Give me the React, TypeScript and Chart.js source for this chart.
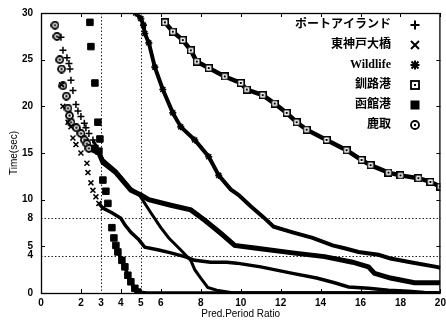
import React, { useEffect, useRef } from 'react';
import { Chart, registerables } from 'chart.js';

Chart.register(...registerables);

// ---- tick labels / reference lines ----
const xTickValues = [0, 2, 3, 4, 5, 6, 8, 10, 12, 14, 16, 18, 20];
const yTickValues = [0, 4, 5, 8, 10, 15, 20, 25, 30];
const refLinesX = [3, 5];
const refLinesY = [4, 8];
const xTitle = 'Pred.Period Ratio';
const yTitle = 'Time(sec)';

// ---- series names ----
const seriesNames = ['ポートアイランド', '東神戸大橋', 'Wildlife', '釧路港', '函館港', '鹿取'];

// ---- ポートアイランド (+) ----
const portX = [1.0, 1.1, 1.3, 1.4, 1.45, 1.5, 1.6, 1.75, 1.85, 2.0, 2.17, 2.25, 2.4, 2.6, 3.1, 3.75, 4.5, 4.9, 5.5, 6.0, 6.4, 7.0, 7.5, 7.7, 8.0, 8.35, 8.8, 9.5, 20];
const portY = [27.4, 26, 25.2, 24.6, 24, 22.8, 21.7, 20.2, 19.5, 18.9, 18.2, 17.7, 17.1, 16.4, 14.3, 13.1, 11.2, 10.6, 8.6, 7.0, 5.9, 4.6, 3.5, 2.5, 1.6, 0.6, 0.3, 0.05, 0];

// ---- 東神戸大橋 (x) ----
const kobeX = [1.03, 1.1, 1.35, 1.5, 1.6, 1.75, 2.0, 2.3, 2.35, 2.5, 2.6, 2.75, 2.9, 3.1, 3.55, 4.0, 4.2, 4.5, 4.9, 5.2, 5.9, 6.5, 7.2, 7.7, 8.5, 9.3, 9.8, 11.0, 12.6, 13.8, 14.7, 15.4, 16.4, 17.4, 18.4, 19.2, 20];
const kobeY = [22.3, 20, 18.3, 17.8, 16.6, 15.9, 15, 13.9, 12.9, 11.8, 11, 10.3, 9.6, 9.1, 8.6, 8.0, 7.3, 6.5, 5.7, 4.9, 4.6, 4.3, 3.9, 3.5, 3.3, 3.3, 3.2, 2.8, 2.1, 1.6, 1.1, 0.65, 0.5, 0.3, 0.2, 0.05, 0];

// ---- Wildlife (*) ----
const wildX = [4.74, 5.0, 5.13, 5.2, 5.4, 5.7, 6.1, 6.6, 7.0, 7.7, 8.4, 8.9, 9.5, 9.9, 10.5, 11.15, 11.65, 12.6, 13.6, 14.6, 15.2, 15.9, 16.9, 17.5, 18.5, 19.8, 20];
const wildY = [30, 29.4, 28.7, 27.8, 26.8, 24.2, 21.8, 19.3, 17.8, 16.4, 14.6, 12.6, 11.1, 10.5, 9.3, 8.1, 7.1, 6.5, 5.9, 5.1, 4.8, 4.4, 4.1, 3.7, 3.3, 2.8, 2.7];

// ---- 釧路港 (square with dot) ----
const kushiroX = [6.2, 6.6, 7.1, 7.5, 7.8, 8.4, 9.2, 10.0, 10.3, 11.1, 11.7, 12.3, 12.8, 13.3, 14.3, 15.3, 16.05, 16.5, 17.4, 18.0, 18.9, 19.5, 20];
const kushiroY = [29, 28, 27.1, 26, 24.8, 24.1, 23.2, 22.5, 21.8, 21.2, 20.3, 19.3, 18.3, 17.5, 16.4, 15.3, 14.25, 13.7, 12.9, 12.6, 12.3, 11.9, 11.4];

// ---- 函館港 (filled square) ----
const hakoX = [2.45, 2.5, 2.7, 2.85, 2.95, 2.7, 2.9, 3.1, 3.25, 3.35, 3.55, 3.65, 3.75, 3.85, 4.05, 4.2, 4.35, 4.5, 4.7, 4.85, 5.3, 20];
const hakoY = [29, 26.4, 22.5, 18.3, 16.5, 15.5, 15.2, 12.1, 10.9, 9.6, 7.0, 5.9, 5.1, 4.4, 3.5, 2.8, 1.9, 1.2, 0.5, 0.1, 0, 0];

// ---- 鹿取 (circle with dot) ----
const katoriX = [0.7, 0.8, 0.94, 1.03, 1.1, 1.27, 1.35, 1.43, 1.5, 1.77, 2.0, 2.17, 2.3, 2.4, 2.9, 3.1, 3.75, 4.5, 5.0, 5.4, 6.5, 7.5, 8.2, 9.0, 9.7, 10.8, 12.6, 14.2, 15.6, 16.4, 16.7, 17.5, 18.7, 20];
const katoriY = [28.7, 27.5, 25, 24, 22.2, 21.1, 19.8, 19, 18.3, 17.7, 17.1, 16.4, 16, 15.5, 15, 14, 12.9, 11, 10.5, 10, 9.4, 8.9, 7.8, 6.4, 5.1, 4.8, 4.3, 3.9, 3.3, 2.8, 2.1, 1.6, 1.1, 1.1];

function toPoints(xs: number[], ys: number[]) {
  return xs.map((x, i) => ({ x, y: ys[i] }));
}

function makeMarkerCanvas(kind: 'circleDot' | 'squareDot', size: number, lw: number) {
  const c = document.createElement('canvas');
  c.width = size;
  c.height = size;
  const g = c.getContext('2d')!;
  g.strokeStyle = '#000';
  g.fillStyle = '#000';
  g.lineWidth = lw;
  const m = size / 2;
  if (kind === 'circleDot') {
    g.fillStyle = '#fff';
    g.beginPath();
    g.arc(m, m, m - 0.5, 0, Math.PI * 2);
    g.fill();
    g.fillStyle = '#000';
    g.beginPath();
    g.arc(m, m, m - lw / 2 - 0.1, 0, Math.PI * 2);
    g.stroke();
    g.beginPath();
    g.arc(m, m, 1.2, 0, Math.PI * 2);
    g.fill();
  } else {
    g.fillStyle = '#fff';
    g.fillRect(0, 0, size, size);
    g.fillStyle = '#000';
    g.strokeRect(lw / 2, lw / 2, size - lw, size - lw);
    g.fillRect(m - 1, m - 1, 2, 2);
  }
  return c;
}

type Kind = 'cross' | 'crossRot' | 'star' | 'squareDot' | 'rect' | 'circleDot';

function drawLegendMarker(g: CanvasRenderingContext2D, kind: Kind, x: number, y: number) {
  g.save();
  g.strokeStyle = '#000';
  g.fillStyle = '#000';
  g.lineWidth = 2;
  const r = 4.5;
  if (kind === 'cross' || kind === 'star') {
    g.beginPath();
    g.moveTo(x - r, y); g.lineTo(x + r, y);
    g.moveTo(x, y - r); g.lineTo(x, y + r);
    g.stroke();
  }
  if (kind === 'crossRot' || kind === 'star') {
    const d = kind === 'star' ? 3.5 : 4;
    g.beginPath();
    g.moveTo(x - d, y - d); g.lineTo(x + d, y + d);
    g.moveTo(x + d, y - d); g.lineTo(x - d, y + d);
    g.stroke();
  }
  if (kind === 'squareDot') {
    g.lineWidth = 1.8;
    g.strokeRect(x - 4, y - 4, 8, 8);
    g.fillRect(x - 1, y - 1, 2, 2);
  }
  if (kind === 'rect') {
    g.fillRect(x - 4.5, y - 4.5, 9, 9);
  }
  if (kind === 'circleDot') {
    g.lineWidth = 1.8;
    g.beginPath();
    g.arc(x, y, 4, 0, Math.PI * 2);
    g.stroke();
    g.beginPath();
    g.arc(x, y, 1.2, 0, Math.PI * 2);
    g.fill();
  }
  g.restore();
}

const legendKinds: Kind[] = ['cross', 'crossRot', 'star', 'squareDot', 'rect', 'circleDot'];

export default function App() {
  const ref = useRef<HTMLCanvasElement>(null);

  useEffect(() => {
    const circleDot = makeMarkerCanvas('circleDot', 9, 1.8);
    const squareDot = makeMarkerCanvas('squareDot', 8, 1.5);

    const mk = (
      label: string,
      xs: number[],
      ys: number[],
      style: any,
      radius: number,
      markTo: number,
      lineFrom: number,
      lineWidth: number,
      pointBorderWidth: number
    ) => ({
      label,
      data: toPoints(xs, ys),
      showLine: true,
      borderColor: '#000',
      backgroundColor: '#000',
      borderWidth: lineWidth,
      pointStyle: style,
      pointBorderColor: '#000',
      pointBackgroundColor: '#000',
      pointBorderWidth,
      pointRadius: (c: any) => (c.dataIndex <= markTo ? radius : 0),
      pointHoverRadius: 0,
      segment: {
        borderColor: (c: any) => (c.p0DataIndex >= lineFrom ? '#000' : 'rgba(0,0,0,0)'),
      },
    });

    const datasets = [
      mk(seriesNames[0], portX, portY, 'cross', 3.5, 13, 13, 3, 1.5),
      mk(seriesNames[1], kobeX, kobeY, 'crossRot', 3.5, 13, 12, 3.5, 1.5),
      mk(seriesNames[2], wildX, wildY, 'star', 3.5, 11, 0, 4, 1.6),
      mk(seriesNames[3], kushiroX, kushiroY, squareDot, 4, 100, 0, 4.5, 1),
      mk(seriesNames[4], hakoX, hakoY, 'rect', 4.6, 19, 13, 3.5, 1),
      mk(seriesNames[5], katoriX, katoriY, circleDot, 4.5, 13, 9, 5, 1),
    ];

    const decor = {
      id: 'decor',
      beforeDatasetsDraw(chart: any) {
        const { ctx, chartArea: a, scales } = chart;
        const xs = scales.x, ys = scales.y;
        ctx.save();
        ctx.strokeStyle = '#222';
        ctx.lineWidth = 1;
        ctx.setLineDash([1.5, 2]);
        refLinesX.forEach((v) => {
          const px = Math.round(xs.getPixelForValue(v)) + 0.5;
          ctx.beginPath(); ctx.moveTo(px, a.top); ctx.lineTo(px, a.bottom); ctx.stroke();
        });
        refLinesY.forEach((v) => {
          const py = Math.round(ys.getPixelForValue(v)) + 0.5;
          ctx.beginPath(); ctx.moveTo(a.left, py); ctx.lineTo(a.right, py); ctx.stroke();
        });
        ctx.restore();
      },
      afterDraw(chart: any) {
        const { ctx, chartArea: a, scales } = chart;
        const xs = scales.x, ys = scales.y;
        ctx.save();
        ctx.strokeStyle = '#000';
        ctx.lineWidth = 1.3;
        ctx.setLineDash([]);
        ctx.strokeRect(a.left + 0.5, a.top + 0.5, a.right - a.left - 1, a.bottom - a.top);
        ctx.lineWidth = 1;
        for (let v = 0; v <= 20; v += 2) {
          const px = Math.round(xs.getPixelForValue(v)) + 0.5;
          ctx.beginPath();
          ctx.moveTo(px, a.bottom); ctx.lineTo(px, a.bottom - 4);
          ctx.moveTo(px, a.top); ctx.lineTo(px, a.top + 4);
          ctx.stroke();
        }
        for (let v = 0; v <= 30; v += 5) {
          const py = Math.round(ys.getPixelForValue(v)) + 0.5;
          ctx.beginPath();
          ctx.moveTo(a.left, py); ctx.lineTo(a.left + 4, py);
          ctx.moveTo(a.right, py); ctx.lineTo(a.right - 4, py);
          ctx.stroke();
        }
        // titles
        ctx.fillStyle = '#000';
        ctx.font = '10px "Liberation Sans", Arial, sans-serif';
        ctx.textAlign = 'center';
        ctx.textBaseline = 'middle';
        ctx.fillText(xTitle, (a.left + a.right) / 2, 314);
        ctx.save();
        ctx.translate(14, (a.top + a.bottom) / 2);
        ctx.rotate(-Math.PI / 2);
        ctx.fillText(yTitle, 0, 0);
        ctx.restore();
        // legend
        ctx.font = 'bold 12px "Liberation Serif", "Noto Sans CJK JP", serif';
        ctx.textAlign = 'right';
        ctx.textBaseline = 'middle';
        seriesNames.forEach((name, i) => {
          const y = 25 + i * 20;
          ctx.fillText(name, 391, y);
          drawLegendMarker(ctx, legendKinds[i], 415, y);
        });
        ctx.restore();
      },
    };

    const chart = new Chart(ref.current!, {
      type: 'scatter',
      data: { datasets } as any,
      options: {
        responsive: false,
        animation: false,
        events: [],
        layout: { padding: { left: 0, top: 13, right: 1, bottom: 0 } },
        plugins: { legend: { display: false }, tooltip: { enabled: false } },
        scales: {
          x: {
            type: 'linear',
            min: 0,
            max: 20,
            grid: { display: false, drawTicks: false },
            border: { display: false },
            afterBuildTicks: (s: any) => {
              s.ticks = xTickValues.map((value) => ({ value }));
            },
            afterFit: (s: any) => {
              s.height = 27;
              s.paddingLeft = 0;
              s.paddingRight = 0;
            },
            ticks: {
              padding: 4,
              color: '#000',
              autoSkip: false,
              maxRotation: 0,
              font: { family: '"Liberation Sans", Arial, sans-serif', size: 10, weight: 'bold' },
              callback: (v: any) => String(v),
            },
          },
          y: {
            type: 'linear',
            min: 0,
            max: 30,
            grid: { display: false, drawTicks: false },
            border: { display: false },
            afterBuildTicks: (s: any) => {
              s.ticks = yTickValues.map((value) => ({ value }));
            },
            afterFit: (s: any) => {
              s.width = 41;
              s.paddingTop = 0;
              s.paddingBottom = 0;
            },
            ticks: {
              padding: 8,
              color: '#000',
              autoSkip: false,
              font: { family: '"Liberation Sans", Arial, sans-serif', size: 10, weight: 'bold' },
              callback: (v: any) => String(v),
            },
          },
        },
      } as any,
      plugins: [decor],
    });
    return () => chart.destroy();
  }, []);

  return (
    <div style={{ position: 'fixed', left: 0, top: 0, width: 446, height: 320, background: '#fff' }}>
      <canvas ref={ref} width={446} height={320} style={{ display: 'block', width: 446, height: 320 }} />
    </div>
  );
}
